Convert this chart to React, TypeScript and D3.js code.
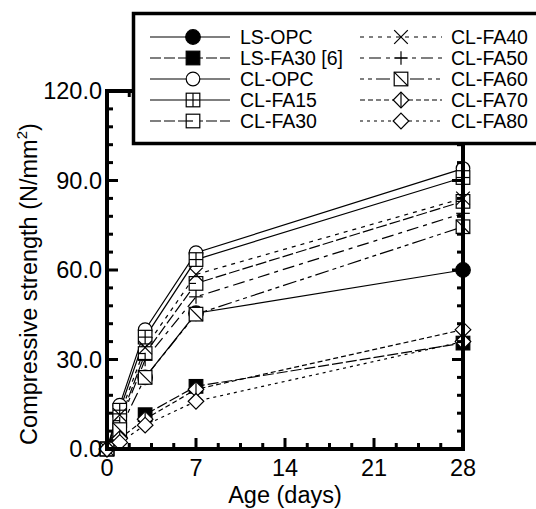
import React from "react";
import * as d3 from "d3";

const days = [0, 1, 3, 7, 28];
const seriesNames = ["LS-OPC", "LS-FA30 [6]", "CL-OPC", "CL-FA15", "CL-FA30", "CL-FA40", "CL-FA50", "CL-FA60", "CL-FA70", "CL-FA80"];
const lsOpc = [null, null, 24, 45.5, 60];
const lsFa30 = [null, null, 11.5, 21, 35.5];
const clOpc = [0, 14.7, 40, 65.8, 94];
const clFa15 = [0, 13, 37.5, 63.5, 91];
const clFa30 = [0, 9.5, 32, 55.5, 83];
const clFa40 = [0, 11.4, 34, 58.5, 84];
const clFa50 = [0, 8.5, 30, 51, 79];
const clFa60 = [0, 6.5, 24, 45.2, 74.5];
const clFa70 = [0, 3.5, 10, 20, 40];
const clFa80 = [0, 2.2, 8, 16, 36];
const yTicks = [0, 30, 60, 90, 120];
const xTicks = [0, 7, 14, 21, 28];

const seriesValues = [lsOpc, lsFa30, clOpc, clFa15, clFa30, clFa40, clFa50, clFa60, clFa70, clFa80];
const markers = ["filledCircle", "filledSquare", "circle", "squarePlus", "squareH", "x", "plus", "squareDiag", "diamondV", "diamond"];
const dashes = ["", "11,3", "", "", "11,3", "4,5", "4,5,12,5", "4,4,4,4,14,4", "5,3", "3,4"];

const FONT = "Arial, 'Liberation Sans', Helvetica, sans-serif";

function Marker({ type, x, y }: { type: string; x: number; y: number }) {
  const r = 6.8;
  const s = 6.8;
  const sw = 1.2;
  const common = { stroke: "#000", strokeWidth: sw };
  switch (type) {
    case "filledCircle":
      return <circle cx={x} cy={y} r={r + 0.5} fill="#000" {...common} />;
    case "filledSquare":
      return <rect x={x - s} y={y - s} width={2 * s} height={2 * s} fill="#000" {...common} />;
    case "circle":
      return <circle cx={x} cy={y} r={r} fill="#fff" {...common} />;
    case "squarePlus":
      return (
        <g {...common} fill="#fff">
          <rect x={x - s} y={y - s} width={2 * s} height={2 * s} />
          <line x1={x - s} x2={x + s} y1={y} y2={y} />
          <line x1={x} x2={x} y1={y - s} y2={y + s} />
        </g>
      );
    case "squareH":
      return (
        <g {...common} fill="#fff">
          <rect x={x - s} y={y - s} width={2 * s} height={2 * s} />
          <line x1={x - s} x2={x} y1={y} y2={y} />
        </g>
      );
    case "x":
      return (
        <g {...common}>
          <line x1={x - s} x2={x + s} y1={y - s} y2={y + s} />
          <line x1={x - s} x2={x + s} y1={y + s} y2={y - s} />
        </g>
      );
    case "plus":
      return (
        <g {...common}>
          <line x1={x - s} x2={x + s} y1={y} y2={y} />
          <line x1={x} x2={x} y1={y - s} y2={y + s} />
        </g>
      );
    case "squareDiag":
      return (
        <g {...common} fill="#fff">
          <rect x={x - s} y={y - s} width={2 * s} height={2 * s} />
          <line x1={x - s} x2={x + s} y1={y - s} y2={y + s} />
        </g>
      );
    case "diamondV":
      return (
        <g {...common} fill="#fff">
          <path d={`M${x},${y - s - 1}L${x + s + 1},${y}L${x},${y + s + 1}L${x - s - 1},${y}Z`} />
          <line x1={x} x2={x} y1={y - s - 1} y2={y + s + 1} />
        </g>
      );
    case "diamond":
      return (
        <g {...common} fill="#fff">
          <path d={`M${x},${y - s - 1}L${x + s + 1},${y}L${x},${y + s + 1}L${x - s - 1},${y}Z`} />
        </g>
      );
  }
  return null;
}

export default function App() {
  const W = 536;
  const H = 509;
  const x = d3.scaleLinear().domain([0, 28]).range([107, 463]);
  const y = d3.scaleLinear().domain([0, 120]).range([449, 91]);

  const line = d3
    .line<[number, number | null]>()
    .defined((d) => d[1] !== null)
    .x((d) => x(d[0]))
    .y((d) => y(d[1] as number));

  const yMinor = d3.range(0, 121, 6);
  const xMinor = d3.range(0, 28.01, 1.75);
  const [x0, x1] = x.range();
  const [y0, y1] = y.range();

  const legendRows = seriesNames.map((name, i) => {
    const col = i < 5 ? 0 : 1;
    const row = i % 5;
    return { name, i, col, row, cy: 37 + row * 21 };
  });

  return (
    <svg width={W} height={H} style={{ position: "absolute", left: 0, top: 0, background: "#fff" }} fontFamily={FONT}>
      <rect x={0} y={0} width={W} height={H} fill="#fff" />
      {/* series lines */}
      {seriesValues.map((vals, i) => (
        <path
          key={"l" + i}
          d={line(days.map((d, j) => [d, vals[j]] as [number, number | null])) || ""}
          fill="none"
          stroke="#000"
          strokeWidth={1.2}
          strokeDasharray={dashes[i] || undefined}
        />
      ))}
      {/* markers */}
      {seriesValues.map((vals, i) =>
        days.map((d, j) =>
          vals[j] === null ? null : <Marker key={`m${i}-${j}`} type={markers[i]} x={x(d)} y={y(vals[j] as number)} />
        )
      )}
      {/* frame */}
      <rect x={x0} y={y1} width={x1 - x0} height={y0 - y1} fill="none" stroke="#000" strokeWidth={4} />
      {/* y ticks left & right */}
      {yMinor.map((v) => {
        const major = v % 30 === 0;
        const len = major ? 11 : 6;
        return (
          <g key={"yt" + v} stroke="#000" strokeWidth={3}>
            <line x1={x0} x2={x0 + len} y1={y(v)} y2={y(v)} />
            <line x1={x1} x2={x1 - len} y1={y(v)} y2={y(v)} />
          </g>
        );
      })}
      {xMinor.map((v) => {
        const major = Math.abs(v % 7) < 1e-6;
        const len = major ? 11 : 6;
        return (
          <g key={"xt" + v} stroke="#000" strokeWidth={3}>
            <line x1={x(v)} x2={x(v)} y1={y0} y2={y0 - len} />
            <line x1={x(v)} x2={x(v)} y1={y1} y2={y1 + len} />
          </g>
        );
      })}
      {/* tick labels */}
      {yTicks.map((v) => (
        <text key={"yl" + v} x={102} y={y(v)} dy="0.36em" textAnchor="end" fontSize={23.5} fill="#000">
          {v.toFixed(1)}
        </text>
      ))}
      {xTicks.map((v) => (
        <text key={"xl" + v} x={x(v)} y={476} textAnchor="middle" fontSize={23.5} fill="#000">
          {v}
        </text>
      ))}
      <text x={(x0 + x1) / 2} y={503} textAnchor="middle" fontSize={23.5} fill="#000">
        Age (days)
      </text>
      <text transform={`translate(37, ${(y0 + y1) / 2 + 14}) rotate(-90)`} textAnchor="middle" fontSize={23.5} fill="#000">
        Compressive strength (N/mm
        <tspan fontSize={15} dy={-10}>2</tspan>
        <tspan dy={10}>)</tspan>
      </text>
      {/* legend */}
      <rect x={133.5} y={13.5} width={430} height={130} fill="#fff" stroke="#000" strokeWidth={3.5} />
      {legendRows.map((r) => {
        const lx0 = r.col === 0 ? 150 : 360;
        const lx1 = r.col === 0 ? 230 : 442;
        const mx = r.col === 0 ? 193 : 401;
        const tx = r.col === 0 ? 240 : 451;
        return (
          <g key={"lg" + r.i}>
            <line x1={lx0} x2={lx1} y1={r.cy} y2={r.cy} stroke="#000" strokeWidth={1.2} strokeDasharray={dashes[r.i] || undefined} />
            <Marker type={markers[r.i]} x={mx} y={r.cy} />
            <text x={tx} y={r.cy} dy="0.36em" fontSize={19.5} fill="#000">
              {r.name}
            </text>
          </g>
        );
      })}
    </svg>
  );
}
